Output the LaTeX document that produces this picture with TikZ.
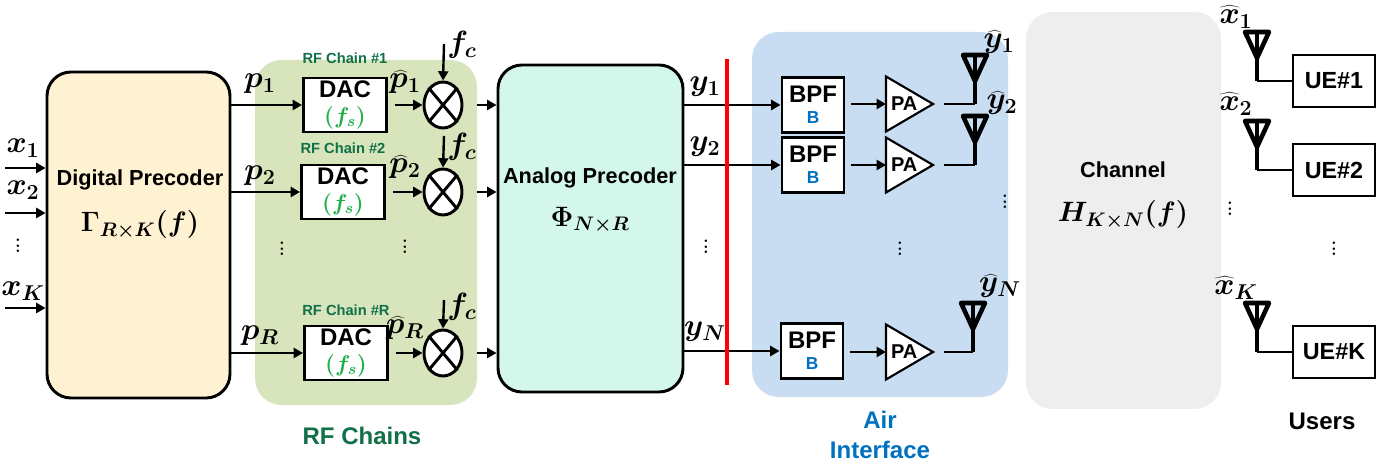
\RequirePackage{fix-cm}
\documentclass[tikz,border=0pt]{standalone}
\usepackage{fontspec}
\setsansfont{Liberation Sans}
\usetikzlibrary{arrows.meta,shapes.geometric}

\definecolor{dpyellow}{HTML}{FFF2D2}
\definecolor{rfgreen}{HTML}{D8E4BC}
\definecolor{apmint}{HTML}{D4F7EC}
\definecolor{airblue}{HTML}{C8DCF2}
\definecolor{chgray}{HTML}{EEEEEE}
\definecolor{rfdark}{HTML}{107048}
\definecolor{fsgreen}{HTML}{1FAF4A}
\definecolor{aiblue}{HTML}{0070C0}

\tikzset{
  region/.style={rounded corners=20pt, inner sep=0pt},
  block/.style={draw, line width=2.2pt, rounded corners=18pt, inner sep=0pt},
  unit/.style={draw, line width=2.2pt, fill=white, inner sep=0pt, align=center,
    font=\sffamily\bfseries\boldmath\fontsize{18}{19}\selectfont},
  mixer/.style={draw, ellipse, line width=2.2pt, fill=white, inner sep=0pt,
    minimum width=28.5pt, minimum height=34.5pt},
  amp/.style={inner xsep=2pt, inner ysep=0pt, text width=28pt, align=left,
    minimum width=35.25pt, minimum height=41.25pt,
    font=\sffamily\bfseries\fontsize{15}{16}\selectfont},
  ampedge/.style={draw, line width=1.6pt, fill=white, line join=miter},
  sig/.style={line width=1.8pt, -{Triangle[length=7pt,width=7.5pt]}},
  wire/.style={line width=2.2pt},
  title/.style={inner sep=0pt, font=\sffamily\bfseries\fontsize{16.3}{18}\selectfont},
  formula/.style={inner sep=0pt, font=\boldmath\fontsize{21}{23}\selectfont},
  lbl/.style={inner sep=0pt, font=\boldmath\fontsize{23}{25}\selectfont},
  chainlbl/.style={inner sep=0pt, text=rfdark, font=\sffamily\bfseries\fontsize{11}{12}\selectfont},
  grouplbl/.style={inner sep=0pt, align=center, font=\sffamily\bfseries\fontsize{18}{22.5}\selectfont},
  antenna/.pic={
    \draw[line width=2.6pt] (0,0) -- (0,-23);
    \draw[line width=3.4pt, line join=round] (-12,-49) -- (12,-49) -- (0,-23) -- cycle;
    \draw[line width=3.4pt] (0,-49) -- (0,-23);
  }
}
\newcommand{\fsz}{\fontsize{17}{18}\selectfont\color{fsgreen}}
\newcommand{\bsz}{\fontsize{13}{14}\selectfont\color{aiblue}}

\begin{document}
\begin{tikzpicture}[x=0.75pt,y=-0.75pt]
\useasboundingbox (0,0) rectangle (1396,466);
% shaded groups
\node[region, fill=rfgreen, minimum width=166.5pt, minimum height=258.75pt] (rf) at (366,232.5) {};
\node[region, fill=airblue, minimum width=192pt, minimum height=273.75pt] (air) at (880,214.5) {};
\node[region, fill=chgray, minimum width=146.25pt, minimum height=297.75pt] (ch) at (1123.5,210.5) {};

% precoders and channel
\node[block, fill=dpyellow, minimum width=137.25pt, minimum height=244.5pt] (dp) at (138.5,235) {};
\node[block, fill=apmint, minimum width=138.75pt, minimum height=245.25pt] (ap) at (590.5,228.5) {};
\node[title] (dptxt) at (140,180) {Digital Precoder};
\node[formula] (dpmat) at (140,225) {$\Gamma_{R\times K}(f)$};
\node[title] (aptxt) at (590,178) {Analog Precoder};
\node[formula] (apmat) at (590,220) {$\Phi_{N\times R}$};
\node[title] (chtxt) at (1123,170) {Channel};
\node[formula] (chmat) at (1123,215) {$H_{K\times N}(f)$};

% inputs
\coordinate (in1) at (5,168);
\coordinate (in2) at (5,213);
\coordinate (inK) at (5,308);
\draw[sig] (in1) -- (in1 -| dp.west);
\draw[sig] (in2) -- (in2 -| dp.west);
\draw[sig] (inK) -- (inK -| dp.west);
\node[lbl] (x1) at (23,148) {$x_1$};
\node[lbl] (x2) at (23,190) {$x_2$};
\node[lbl] (xK) at (23,291) {$x_K$};
\node[lbl] (xdots) at (18,242) {$\vdots$};

% RF chains
\node[unit, minimum width=62.25pt, minimum height=40.5pt] (dac1) at (345,105) {DAC\\ \fsz$(f_s)$};
\node[unit, minimum width=62.25pt, minimum height=40.5pt] (dac2) at (343,192) {DAC\\ \fsz$(f_s)$};
\node[unit, minimum width=62.25pt, minimum height=40.5pt] (dacR) at (346,353) {DAC\\ \fsz$(f_s)$};
\node[chainlbl] (ch1) at (345,58) {RF Chain \#1};
\node[chainlbl] (ch2) at (343,148) {RF Chain \#2};
\node[chainlbl] (chR) at (346,310) {RF Chain \#R};
\node[mixer] (mix1) at (443,105) {};
\node[mixer] (mix2) at (443,192) {};
\node[mixer] (mixR) at (443,353) {};
\draw[wire] (mix1.50) -- (mix1.230) (mix1.130) -- (mix1.-50);
\draw[wire] (mix2.50) -- (mix2.230) (mix2.130) -- (mix2.-50);
\draw[wire] (mixR.50) -- (mixR.230) (mixR.130) -- (mixR.-50);
\coordinate (fc1) at (444,44);
\coordinate (fc2) at (444,136);
\coordinate (fcR) at (444,300);
\draw[sig] (fc1) -- (mix1.north);
\draw[sig] (fc2) -- (mix2.north);
\draw[sig] (fcR) -- (mixR.north);
\node[lbl] (fclbl1) at (462,45) {$f_c$};
\node[lbl] (fclbl2) at (462,147) {$f_c$};
\node[lbl] (fclblR) at (462,307) {$f_c$};
\draw[sig] (dp.east |- dac1) -- (dac1);
\draw[sig] (dp.east |- dac2) -- (dac2);
\draw[sig] (dp.east |- dacR) -- (dacR);
\node[lbl] (p1) at (260,84) {$p_1$};
\node[lbl] (p2) at (260,176) {$p_2$};
\node[lbl] (pR) at (260,336) {$p_R$};
\draw[sig, shorten <=5pt] (dac1) -- (mix1);
\draw[sig, shorten <=5pt] (dac2) -- (mix2);
\draw[sig, shorten <=5pt] (dacR) -- (mixR);
\node[lbl] (ph1) at (405,82) {$\widehat{p}_1$};
\node[lbl] (ph2) at (405,167) {$\widehat{p}_2$};
\node[lbl] (phR) at (405,328) {$\widehat{p}_R$};
\node[lbl] (rfdots1) at (282,245) {$\vdots$};
\node[lbl] (rfdots2) at (405,243) {$\vdots$};
\draw[sig, shorten <=10pt] (mix1) -- (mix1 -| ap.west);
\draw[sig, shorten <=10pt] (mix2) -- (mix2 -| ap.west);
\draw[sig, shorten <=10pt] (mixR) -- (mixR -| ap.west);

% air interface
\node[unit, minimum width=46.5pt, minimum height=41.25pt] (bpf1) at (813,105) {BPF\\[-3pt] \bsz B};
\node[unit, minimum width=46.5pt, minimum height=41.25pt] (bpf2) at (813,165) {BPF\\[-3pt] \bsz B};
\node[unit, minimum width=46.5pt, minimum height=41.25pt] (bpfN) at (812,351) {BPF\\[-3pt] \bsz B};
\draw[sig] (ap.east |- bpf1) -- (bpf1);
\draw[sig] (ap.east |- bpf2) -- (bpf2);
\draw[sig] (ap.east |- bpfN) -- (bpfN);
\node[lbl] (y1) at (705,87) {$y_1$};
\node[lbl] (y2) at (705,147) {$y_2$};
\node[lbl] (yN) at (705,332) {$y_N$};
\node[lbl] (ydots) at (706,243) {$\vdots$};
\draw[red, line width=2.4pt] (727,59) -- (727,385);
% power amplifiers: triangle drawn round the text node
\draw[ampedge] (886,76.5) -- (933,104) -- (886,131.5) -- cycle;
\draw[ampedge] (886,137.5) -- (933,165) -- (886,192.5) -- cycle;
\draw[ampedge] (886,324.5) -- (933,352) -- (886,379.5) -- cycle;
\node[amp, anchor=west] (pa1) at (886,104) {PA};
\node[amp, anchor=west] (pa2) at (886,165) {PA};
\node[amp, anchor=west] (paN) at (886,352) {PA};
\draw[sig, shorten <=4pt] (bpf1.east |- pa1) -- (pa1.west);
\draw[sig, shorten <=4pt] (bpf2.east |- pa2) -- (pa2.west);
\draw[sig, shorten <=4pt] (bpfN.east |- paN) -- (paN.west);
\coordinate (ant1) at (975,104);
\coordinate (ant2) at (975,165);
\coordinate (antN) at (973,352);
\draw[wire, shorten <=8pt] (pa1.east) -- (ant1);
\draw[wire, shorten <=8pt] (pa2.east) -- (ant2);
\draw[wire, shorten <=8pt] (paN.east) -- (antN);
\pic at (ant1) {antenna};
\pic at (ant2) {antenna};
\pic at (antN) {antenna};
\node[lbl] (yh1) at (999,42) {$\widehat{y}_1$};
\node[lbl] (yh2) at (1002,103) {$\widehat{y}_2$};
\node[lbl] (yhN) at (1000,286) {$\widehat{y}_N$};
\node[lbl] (adots1) at (1005,198) {$\vdots$};
\node[lbl] (adots2) at (900,245) {$\vdots$};

% users
\node[unit, minimum width=61.5pt, minimum height=39pt, font=\sffamily\bfseries\fontsize{17.5}{19}\selectfont] (ue1) at (1334,81) {UE\#1};
\node[unit, minimum width=61.5pt, minimum height=39pt, font=\sffamily\bfseries\fontsize{17.5}{19}\selectfont] (ue2) at (1334,170) {UE\#2};
\node[unit, minimum width=61.5pt, minimum height=39pt, font=\sffamily\bfseries\fontsize{17.5}{19}\selectfont] (ueK) at (1334,352) {UE\#K};
\coordinate (uant1) at (1257,81);
\coordinate (uant2) at (1257,170);
\coordinate (uantK) at (1257,352);
\draw[wire] (uant1) -- (ue1.west);
\draw[wire] (uant2) -- (ue2.west);
\draw[wire] (uantK) -- (ueK.west);
\pic at (uant1) {antenna};
\pic at (uant2) {antenna};
\pic at (uantK) {antenna};
\node[lbl] (xh1) at (1236,17) {$\widehat{x}_1$};
\node[lbl] (xh2) at (1236,104) {$\widehat{x}_2$};
\node[lbl] (xhK) at (1236,288) {$\widehat{x}_K$};
\node[lbl] (udots1) at (1230,205) {$\vdots$};
\node[lbl] (udots2) at (1334,245) {$\vdots$};

% group labels
\node[grouplbl, text=rfdark] (rflbl) at (362,436) {RF Chains};
\node[grouplbl, text=aiblue] (ailbl) at (880,435) {Air\\Interface};
\node[grouplbl] (userlbl) at (1322,421) {Users};
\end{tikzpicture}
\end{document}
